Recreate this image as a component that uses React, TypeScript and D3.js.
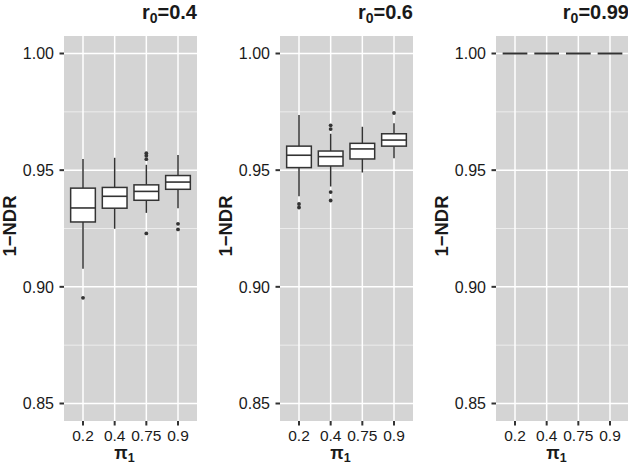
import React from "react";
import * as d3 from "d3";

const categories = ["0.2", "0.4", "0.75", "0.9"];
const panelTitles = ["0.4", "0.6", "0.99"];
const yTicks = [0.85, 0.9, 0.95, 1.0];
const yMinor = [0.875, 0.925, 0.975];

// [lower whisker, Q1, median, Q3, upper whisker]
const r04Box = [
  [0.9077, 0.9278, 0.9338, 0.9423, 0.9548],
  [0.9249, 0.9337, 0.9388, 0.9426, 0.9553],
  [0.9317, 0.9371, 0.9409, 0.9437, 0.9523],
  [0.9337, 0.9418, 0.9449, 0.9477, 0.9565],
];
const r04Outliers = [[0.8953], [], [0.9573, 0.9562, 0.9547, 0.9229], [0.927, 0.9246]];

const r06Box = [
  [0.9388, 0.9511, 0.9564, 0.9603, 0.9736],
  [0.943, 0.9518, 0.9558, 0.9582, 0.9656],
  [0.949, 0.9548, 0.9591, 0.9615, 0.9686],
  [0.9551, 0.9603, 0.9629, 0.9656, 0.9701],
];
const r06Outliers = [[0.9355, 0.934], [0.9692, 0.9676, 0.9406, 0.937], [], [0.9745]];

const r099Box = [
  [1.0, 1.0, 1.0, 1.0, 1.0],
  [1.0, 1.0, 1.0, 1.0, 1.0],
  [1.0, 1.0, 1.0, 1.0, 1.0],
  [1.0, 1.0, 1.0, 1.0, 1.0],
];
const r099Outliers = [[], [], [], []];

const panels = [
  { title: panelTitles[0], box: r04Box, out: r04Outliers, left: 64 },
  { title: panelTitles[1], box: r06Box, out: r06Outliers, left: 280 },
  { title: panelTitles[2], box: r099Box, out: r099Outliers, left: 496 },
];

const W = 628;
const H = 464;
const PW = 133;
const TOP = 36;
const BOT = 421;
const FONT = "'Liberation Sans', Arial, Helvetica, sans-serif";
const INK = "#333333";
const TXT = "#1a1a1a";

function Panel({ p }: { p: (typeof panels)[number] }) {
  const x = d3.scalePoint<string>().domain(categories).range([p.left, p.left + PW]).padding(0.6);
  const y = d3.scaleLinear().domain([0.8425, 1.0075]).range([BOT, TOP]);
  const step = x.step();
  const bw = step * 0.78;
  return (
    <g>
      <rect x={p.left} y={TOP} width={PW} height={BOT - TOP} fill="#d4d4d4" />
      {yMinor.map((v) => (
        <line key={"mi" + v} x1={p.left} x2={p.left + PW} y1={y(v)} y2={y(v)} stroke="#f2f2f2" strokeWidth={0.8} />
      ))}
      {yTicks.map((v) => (
        <line key={"ma" + v} x1={p.left} x2={p.left + PW} y1={y(v)} y2={y(v)} stroke="#ffffff" strokeWidth={1.5} />
      ))}
      {categories.map((c) => (
        <line key={"vx" + c} x1={x(c)} x2={x(c)} y1={TOP} y2={BOT} stroke="#ffffff" strokeWidth={1.5} />
      ))}
      {p.box.map((s, i) => {
        const cx = x(categories[i])!;
        const [lo, q1, md, q3, hi] = s;
        return (
          <g key={"b" + i} stroke={INK} strokeWidth={1.5}>
            <line x1={cx} x2={cx} y1={y(hi)} y2={y(q3)} />
            <line x1={cx} x2={cx} y1={y(q1)} y2={y(lo)} />
            <rect x={cx - bw / 2} y={y(q3)} width={bw} height={Math.max(0, y(q1) - y(q3))} fill="#ffffff" />
            <line x1={cx - bw / 2} x2={cx + bw / 2} y1={y(md)} y2={y(md)} strokeWidth={q1 === q3 ? 2 : 1.6} />
            {p.out[i].map((o, j) => (
              <circle key={j} cx={cx} cy={y(o)} r={1.9} fill={INK} stroke="none" />
            ))}
          </g>
        );
      })}
      {/* y axis */}
      {yTicks.map((v) => (
        <g key={"yt" + v}>
          <line x1={p.left - 4.5} x2={p.left} y1={y(v)} y2={y(v)} stroke={INK} strokeWidth={2} />
          <text x={p.left - 10} y={y(v)} dy="0.36em" textAnchor="end" fontSize={16} fill={TXT} fontFamily={FONT}>
            {v.toFixed(2)}
          </text>
        </g>
      ))}
      {/* x axis */}
      {categories.map((c) => (
        <g key={"xt" + c}>
          <line x1={x(c)} x2={x(c)} y1={BOT} y2={BOT + 4.5} stroke={INK} strokeWidth={2} />
          <text x={x(c)} y={440.5} textAnchor="middle" fontSize={15.5} fill={TXT} fontFamily={FONT}>
            {c}
          </text>
        </g>
      ))}
      <text x={p.left + PW / 2 - 6} y={458.5} textAnchor="middle" fontSize={17.5} fontWeight="bold" fill={TXT} fontFamily={FONT}>
        π<tspan fontSize={12.5} dy={3}>1</tspan>
      </text>
      <text
        transform={`translate(${p.left - 54.5},226) rotate(-90)`}
        textAnchor="middle"
        fontSize={18.5}
        fontWeight="bold"
        fill={TXT}
        fontFamily={FONT}
        dy="0.35em"
      >
        1−NDR
      </text>
      <text x={p.left + PW} y={18.5} textAnchor="end" fontSize={20} fontWeight="bold" fill={TXT} fontFamily={FONT}>
        r<tspan fontSize={14} dy={4}>0</tspan>
        <tspan dy={-4}>={p.title}</tspan>
      </text>
    </g>
  );
}

export default function App() {
  return (
    <svg width={W} height={H} style={{ position: "absolute", left: 0, top: 0, background: "#fff" }}>
      <rect width={W} height={H} fill="#fff" />
      {panels.map((p) => (
        <Panel key={p.title} p={p} />
      ))}
    </svg>
  );
}
